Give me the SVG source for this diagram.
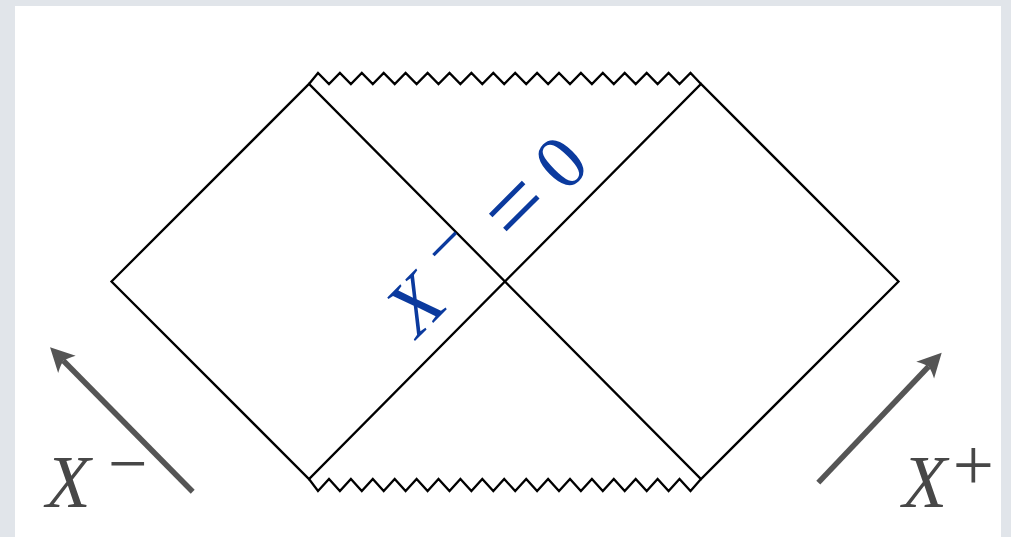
<svg xmlns="http://www.w3.org/2000/svg" width="1011" height="537" viewBox="0 0 1011 537">
<style>
.edge{fill:none;stroke:#000;stroke-width:2.3;stroke-linejoin:miter}
.arrow{fill:none;stroke:#555;stroke-width:5.5}
.lbl{font-family:"Liberation Serif","Times New Roman",serif;fill:#474747}
.blue{font-family:"Liberation Serif","Times New Roman",serif;fill:#0b3a9e}
</style>
<defs>
<marker id="head" markerUnits="userSpaceOnUse" orient="auto" refX="0" refY="0" markerWidth="40" markerHeight="40" overflow="visible">
<path d="M19,0 L-5,-12.3 Q-1,-5 0,0 Q-1,5 -5,12.3 Z" fill="#555"/>
</marker>
</defs>
<rect width="1011" height="537" fill="#e1e5ea"/>
<rect x="15" y="6" width="986" height="531" fill="#fff"/>
<g id="connectors">
<path class="edge" d="M111.5,281.5 L309,84 L701,479 L898.5,281.5 L701,84 L309,479 Z"/>
<path class="edge" id="singularity-top" d="M309,84 L318,73 L329,84 L339.9,73 L350.9,84 L361.8,73 L372.8,84 L383.7,73 L394.7,84 L405.6,73 L416.6,84 L427.6,73 L438.5,84 L449.5,73 L460.4,84 L471.4,73 L482.3,84 L493.3,73 L504.2,84 L515.2,73 L526.2,84 L537.1,73 L548.1,84 L559,73 L570,84 L580.9,73 L591.9,84 L602.8,73 L613.8,84 L624.7,73 L635.7,84 L646.7,73 L657.6,84 L668.6,73 L679.5,84 L690.5,73 L701,84"/>
<path class="edge" id="singularity-bottom" d="M309,479 L318,491 L329,479 L339.9,491 L350.9,479 L361.8,491 L372.8,479 L383.7,491 L394.7,479 L405.6,491 L416.6,479 L427.6,491 L438.5,479 L449.5,491 L460.4,479 L471.4,491 L482.3,479 L493.3,491 L504.2,479 L515.2,491 L526.2,479 L537.1,491 L548.1,479 L559,491 L570,479 L580.9,491 L591.9,479 L602.8,491 L613.8,479 L624.7,491 L635.7,479 L646.7,491 L657.6,479 L668.6,491 L679.5,479 L690.5,491 L701,479"/>
<line class="arrow" x1="192.7" y1="491.7" x2="63.4" y2="360.8" marker-end="url(#head)"/>
<line class="arrow" x1="818.3" y1="482.7" x2="928.6" y2="366.5" marker-end="url(#head)"/>
</g>
<g id="horizon-label" transform="translate(416,340) rotate(-45)">
<text class="blue"><tspan x="1" y="0" font-style="italic" font-size="77">X</tspan><tspan x="69" y="-25" font-size="68">−</tspan><tspan x="136" y="8" font-size="100">=</tspan><tspan x="209" y="2" font-size="76">0</tspan></text>
</g>
<g id="label-xminus">
<text class="lbl" x="46" y="506.5" font-size="73" font-style="italic">X<tspan x="108" y="487" font-size="70" font-style="normal">−</tspan></text>
</g>
<g id="label-xplus">
<text class="lbl" x="902.5" y="506.5" font-size="73" font-style="italic">X<tspan x="952.7" y="490" font-size="73" font-style="normal">+</tspan></text>
</g>
</svg>
